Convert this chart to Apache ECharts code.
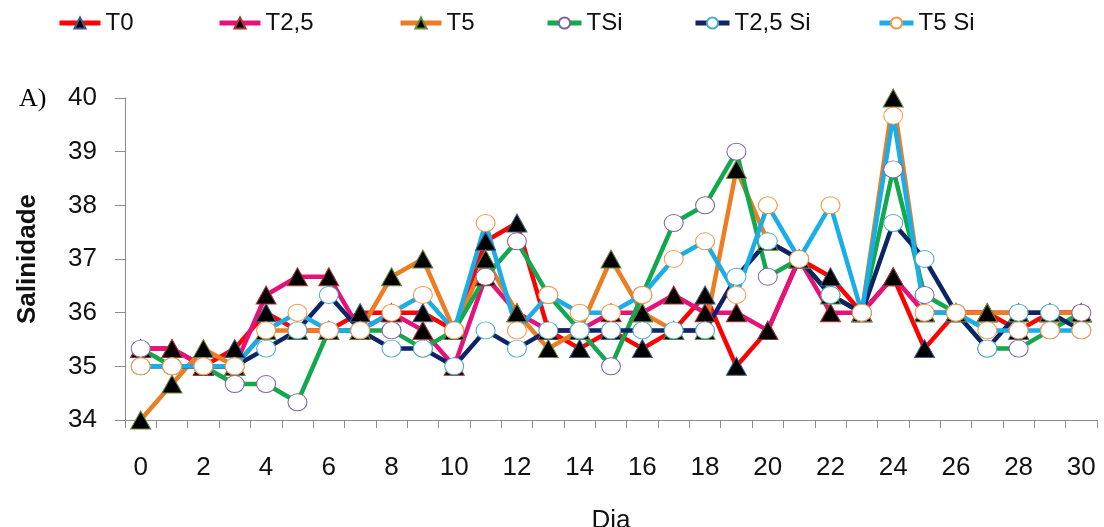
<!DOCTYPE html>
<html>
<head>
<meta charset="utf-8">
<script src="https://cdn.jsdelivr.net/npm/echarts@6/dist/echarts.min.js"></script>
<style>
html,body{margin:0;padding:0;background:#fff;}
#c{width:1104px;height:527px;}
</style>
</head>
<body>
<div id="c"></div>
<script>
const days = ['0','1','2','3','4','5','6','7','8','9','10','11','12','13','14','15','16','17','18','19','20','21','22','23','24','25','26','27','28','29','30'];
const yTicks = [34, 35, 36, 37, 38, 39, 40];
const seriesNames = ['T0', 'T2,5', 'T5', 'TSi', 'T2,5 Si', 'T5 Si'];
const T0     = [35.33,35.33,35.0,35.33,36.0,35.67,35.67,36.0,36.0,36.0,35.67,37.33,37.67,35.67,35.33,35.67,35.33,35.67,36.33,35.0,35.67,37.0,36.67,36.0,36.67,35.33,36.0,36.0,35.67,36.0,36.0];
const T25    = [35.33,35.33,35.0,35.0,36.33,36.67,36.67,35.67,36.0,35.67,35.0,36.67,36.0,35.67,35.67,36.0,36.0,36.33,36.0,36.0,35.67,37.0,36.0,36.0,36.67,36.0,36.0,36.0,36.0,36.0,36.0];
const T5     = [34.0,34.67,35.33,35.0,35.67,35.67,35.67,35.67,36.67,37.0,35.67,37.0,36.0,35.33,35.67,37.0,36.0,35.67,35.67,38.67,37.33,37.0,36.33,36.0,40.0,36.0,36.0,36.0,36.0,36.0,36.0];
const TSi    = [35.33,35.0,35.0,34.67,34.67,34.33,35.67,35.67,35.67,35.33,35.67,36.67,37.33,36.33,35.67,35.0,36.33,37.67,38.0,39.0,36.67,37.0,36.33,36.0,38.67,36.33,36.0,35.33,35.33,35.67,36.0];
const T25Si  = [35.0,35.0,35.0,35.0,35.33,35.67,36.33,35.67,35.33,35.33,35.0,35.67,35.33,35.67,35.67,35.67,35.67,35.67,35.67,36.67,37.33,37.0,36.33,36.0,37.67,37.0,36.0,35.33,36.0,36.0,35.67];
const T5Si   = [35.0,35.0,35.0,35.0,35.67,36.0,35.67,35.67,36.0,36.33,35.67,37.67,35.67,36.33,36.0,36.0,36.33,37.0,37.33,36.33,38.0,37.0,38.0,36.0,39.67,36.0,36.0,35.67,35.67,35.67,35.67];

const values = [T0, T25, T5, TSi, T25Si, T5Si];
const lineColors = ['#ff0000', '#e5127a', '#ed7d22', '#12a84c', '#0d2566', '#19aee8'];
const edgeColors = ['#3b5b8a', '#b03030', '#6a8a3a', '#8064a2', '#4bacc6', '#f79646'];
const isTri = [true, true, true, false, false, false];
const legendLeft = [57, 217, 398, 545, 693, 877];
const legendWidth = [41, 41, 41, 34, 34, 34];

const FONT = 'Liberation Sans';
const series = seriesNames.map((n, i) => ({
  name: n,
  type: 'line',
  data: values[i],
  symbol: isTri[i] ? 'triangle' : 'circle',
  symbolSize: isTri[i] ? [20, 18] : [19, 17],
  lineStyle: { color: lineColors[i], width: 4.5 },
  itemStyle: {
    color: isTri[i] ? '#000' : '#fff',
    borderColor: edgeColors[i],
    borderWidth: 1
  },
  emphasis: { disabled: true },
  animation: false
}));

const legends = seriesNames.map((n, i) => ({
  data: [n],
  left: legendLeft[i],
  top: 11,
  padding: 0,
  itemWidth: legendWidth[i],
  itemHeight: 14,
  itemGap: 0,
  lineStyle: { width: 5 },
  textStyle: { fontFamily: FONT, fontSize: 24, color: '#111' }
}));

const chart = echarts.init(document.getElementById('c'), null, { renderer: 'canvas' });
chart.setOption({
  animation: false,
  backgroundColor: '#fff',
  color: lineColors,
  legend: legends,
  graphic: [{
    type: 'text', left: 19, top: 86,
    style: { text: 'A)', font: '26px "Liberation Serif"', fill: '#000' }
  }],
  grid: { left: 125, right: 7, top: 98, bottom: 107, outerBoundsMode: 'none', containLabel: false },
  xAxis: {
    type: 'category',
    data: days,
    boundaryGap: true,
    name: 'Dia',
    nameLocation: 'middle',
    nameGap: 88,
    nameTextStyle: { fontFamily: FONT, fontSize: 26, color: '#111' },
    axisLine: { lineStyle: { color: '#8c8c8c', width: 1 } },
    axisTick: { show: true, interval: 0, length: 8, lineStyle: { color: '#8c8c8c' } },
    axisLabel: { interval: 1, margin: 35, fontFamily: FONT, fontSize: 26, color: '#111' },
    splitLine: { show: false }
  },
  yAxis: {
    type: 'value',
    min: yTicks[0],
    max: yTicks[yTicks.length - 1],
    interval: 1,
    name: 'Salinidade',
    nameLocation: 'middle',
    nameGap: 84,
    nameRotate: 90,
    nameTextStyle: { fontFamily: FONT, fontSize: 26, fontWeight: 'bold', color: '#111' },
    axisLine: { show: true, lineStyle: { color: '#8c8c8c', width: 1 } },
    axisTick: { show: true, length: 10, lineStyle: { color: '#8c8c8c' } },
    axisLabel: { margin: 28, fontFamily: FONT, fontSize: 26, color: '#111' },
    splitLine: { show: false }
  },
  series: series
});
</script>
</body>
</html>
